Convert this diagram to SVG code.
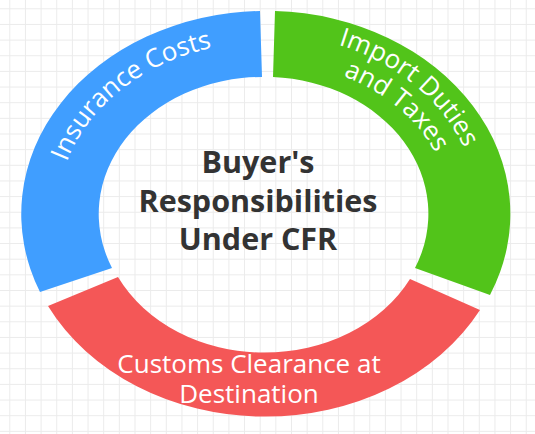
<svg xmlns="http://www.w3.org/2000/svg" width="535" height="434" viewBox="0 0 535 434">
  <style>
    .title { font-family: "Open Sans", "Liberation Sans", sans-serif; font-weight: 700; font-size: 30.5px; fill: #333333; text-anchor: middle; }
    .label { font-family: "Open Sans", "Liberation Sans", sans-serif; font-size: 26px; fill: #ffffff; }
    .mid { text-anchor: middle; }
  </style>
  <defs>
    <pattern id="grid" x="9.3" y="8.3" width="15.65" height="15.65" patternUnits="userSpaceOnUse">
      <rect x="0" y="0" width="1" height="15.65" fill="#ebebeb"/>
      <rect x="0" y="0" width="15.65" height="1" fill="#ebebeb"/>
    </pattern>
    <path id="pBlue" d="M57,214 A208,172 0 0 1 265,42"/>
    <path id="pGreen1" d="M265,34 A214,180 0 0 1 479,214"/>
    <path id="pGreen2" d="M265,62 A186,152 0 0 1 451,214"/>
  </defs>
  <rect width="535" height="434" fill="#ffffff"/>
  <rect width="535" height="434" fill="url(#grid)"/>

  <g id="insurance-costs">
    <path d="M40,292 A244,203 0 0 1 260,11 L262,77 A164,137 0 0 0 112,268 Z" fill="#409eff"/>
    <text class="label"><textPath href="#pBlue" startOffset="50%" text-anchor="middle">Insurance Costs</textPath></text>
  </g>

  <g id="import-duties">
    <path d="M275,11 A244,203 0 0 1 490,295 L415,268 A164,137 0 0 0 273,77 Z" fill="#52c41a"/>
    <text class="label"><textPath href="#pGreen1" startOffset="51%" text-anchor="middle">Import Duties</textPath></text>
    <text class="label"><textPath href="#pGreen2" startOffset="53%" text-anchor="middle">and Taxes</textPath></text>
  </g>

  <g id="customs-clearance">
    <path d="M480,310 A244,203 0 0 1 48,306 L118,277 A164,137 0 0 0 410,279 Z" fill="#f45757"/>
    <text class="label mid" x="249" y="373">Customs Clearance at</text>
    <text class="label mid" x="249" y="403">Destination</text>
  </g>

  <g id="center-title">
    <text class="title" x="258" y="173">Buyer's</text>
    <text class="title" x="258" y="211.5">Responsibilities</text>
    <text class="title" x="258" y="250">Under CFR</text>
  </g>

  <g id="connectors"></g>
</svg>
